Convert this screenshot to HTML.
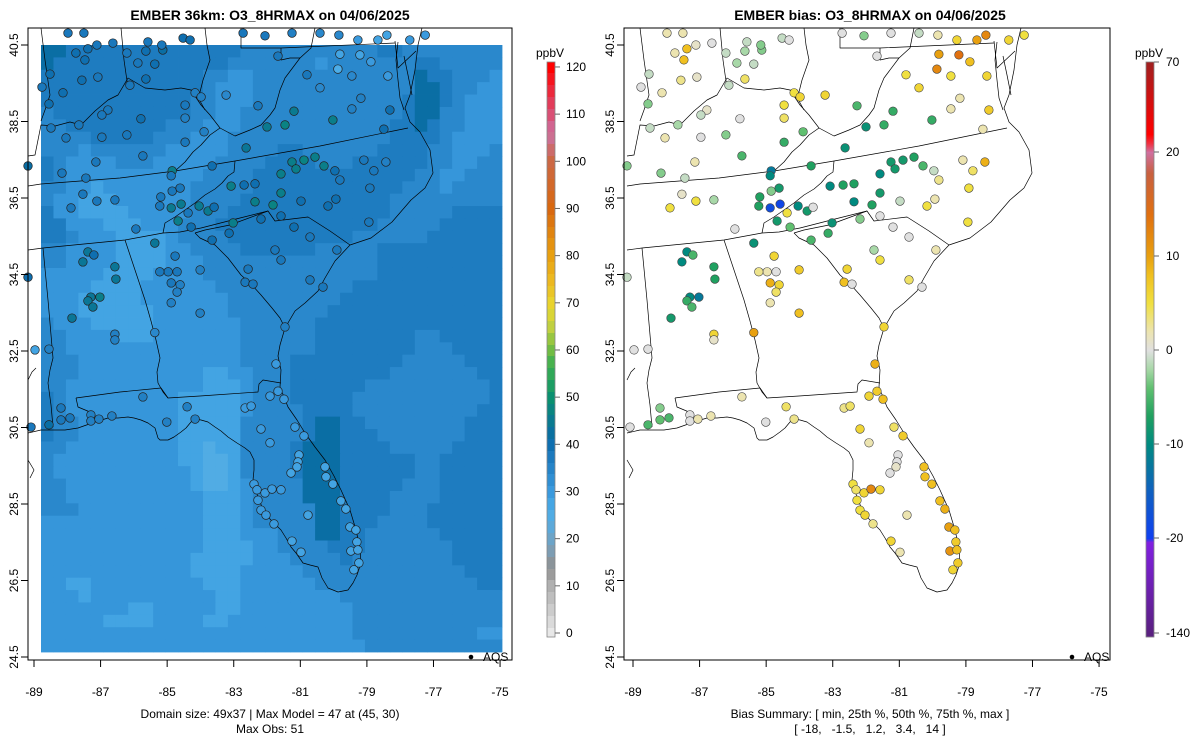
<!DOCTYPE html>
<html><head><meta charset="utf-8"><title>EMBER O3 maps</title>
<style>
html,body{margin:0;padding:0;background:#fff;}
svg{display:block;font-family:"Liberation Sans",sans-serif;}
</style></head>
<body>
<svg id="chart" width="1200" height="750" viewBox="0 0 1200 750" xmlns="http://www.w3.org/2000/svg">
<defs>
<clipPath id="clipL"><rect x="28" y="28" width="484" height="632"/></clipPath>
<clipPath id="clipR"><rect x="624" y="28" width="486" height="632"/></clipPath>
</defs>
<rect x="0" y="0" width="1200" height="750" fill="#fff"/>
<text x="270" y="20" font-size="14" font-weight="bold" text-anchor="middle">EMBER 36km: O3_8HRMAX on 04/06/2025</text>
<text x="870" y="20" font-size="14" font-weight="bold" text-anchor="middle">EMBER bias: O3_8HRMAX on 04/06/2025</text>
<g id="leftGrid" clip-path="url(#clipL)"></g>
<g id="leftMap" clip-path="url(#clipL)"></g>
<g id="rightMap" clip-path="url(#clipR)"></g>
<g id="leftPts"></g>
<g id="rightPts"></g>
<rect x="28" y="28" width="484" height="632" fill="none" stroke="#000" stroke-width="1"/>
<rect x="624" y="28" width="486" height="632" fill="none" stroke="#000" stroke-width="1"/>
<g id="axes" font-size="12"></g>
<g id="cbars" font-size="12"></g>
<g><circle cx="471" cy="657" r="2.3" fill="#000"/><text x="483" y="661" font-size="12">AQS</text></g>
<g><circle cx="1072" cy="657" r="2.3" fill="#000"/><text x="1084" y="661" font-size="12">AQS</text></g>
<text x="270" y="718" font-size="12" text-anchor="middle">Domain size: 49x37 | Max Model = 47 at (45, 30)</text>
<text x="270" y="733" font-size="12" text-anchor="middle">Max Obs: 51</text>
<text x="870" y="718" font-size="12" text-anchor="middle">Bias Summary: [ min, 25th %, 50th %, 75th %, max ]</text>
<text x="870" y="733" font-size="12" text-anchor="middle" xml:space="preserve">[ -18,   -1.5,   1.2,   3.4,   14 ]</text>
</svg>
<script>
// ---- data ----
const xTickLabels = [-89,-87,-85,-83,-81,-79,-77,-75];
const yTickLabels = [40.5,38.5,36.5,34.5,32.5,30.5,28.5,26.5,24.5];
const obsBarTicks = [0,10,20,30,40,50,60,70,80,90,100,110,120];
const biasBarTicks = [-140,-20,-10,0,10,20,70];
const levelValues = {"1":25,"2":28,"3":31,"4":34,"5":37,"6":42};
const modelRows = [
"6655555555555555444444444445544444444",
"6555555555555554444444344444445544444",
"5555555555555443344444444444446554443",
"5555555555555433344444444444446654433",
"5555555555554433344444444444456654333",
"4555555555554433444444444444456644333",
"4455555555444333444444444444556544333",
"4444555554443334444444444444555543333",
"4443444444333334444554444445555443334",
"5433334443333344445555444555555443344",
"5433333333333444455555555555554433444",
"4433233333334444455555555555544434444",
"4332223333334444555555555555444444444",
"5332222333334445555555555555444445555",
"5533322233344455555555555554444455555",
"5543332222344445555555555444444555555",
"4433332222334444555555444445555555555",
"4433332222333444444444444445555555555",
"3333322223333444444444444445555555555",
"3333222233333344444444444555555555555",
"3332222233333334444444445555555555555",
"3332222223333334444444455555555555555",
"4333222223333333444444555555555555555",
"4433332223333333444444555555554455555",
"4433333333333333444444555555554445555",
"4443333333333333444455555555544444555",
"4443333333333223344455555555444444455",
"4433333333333222344455555544444444445",
"5433333333322222344455555444444444445",
"5433333333322222344445555444444444455",
"5443333333322222444445665544444444555",
"5443333333322222444445665554444444555",
"4433333333322122444456665555444445555",
"4333333333322112444456665555554455555",
"4333333333332112444456665555554455555",
"4433333333332112344446665555544455555",
"4433333333333222344446665555444455555",
"4443333333333222344444665555444555555",
"3333333333333222344444665554444555555",
"3333333333333222333444665544444455555",
"3333333333333222233444455544444445555",
"3333333333332222233344445444444445555",
"3333333333332222333334444444444444555",
"3322333333333222333333444444444444455",
"3332333333333322333333334444444444444",
"3333333223333322333333333444444444444",
"3333322223333223333333333444444444444",
"3333333333333333333333333444444444433",
"3333333333333333333333333344444444444"];
const stationLon = [-87.74,-87.38,-87.11,-87.47,-88.52,-87.56,-87.08,-88.76,-88.13,-88.55,-86.21,-85.88,-85.64,-85.37,-85.13,-85.64,-86.12,-86.78,-86.96,-88.49,-88.04,-87.65,-86.96,-86.21,-85.79,-85.73,-84.46,-84.46,-84.16,-83.98,-83.89,-84.46,-83.23,-82.27,-81.67,-80.80,-80.41,-79.87,-79.81,-79.45,-79.18,-79.45,-78.31,-78.49,-81.19,-81.46,-82.00,-80.02,-82.63,-83.65,-84.85,-84.88,-87.14,-88.16,-87.44,-87.53,-87.11,-86.57,-87.89,-85.94,-85.19,-84.85,-84.61,-85.22,-84.88,-84.58,-84.67,-84.28,-84.37,-84.04,-83.77,-83.59,-83.08,-82.69,-82.36,-82.36,-81.82,-81.58,-81.58,-80.98,-79.93,-80.17,-81.58,-81.25,-81.13,-80.89,-80.56,-80.29,-79.96,-79.81,-79.09,-78.79,-78.43,-78.91,-78.94,-82.18,-83.02,-83.14,-83.65,-81.19,-80.71,-79.90,-81.76,-81.58,-82.57,-82.66,-82.42,-80.71,-80.32,-81.46,-84.76,-84.70,-84.97,-85.37,-85.22,-84.88,-84.61,-84.70,-84.88,-84.01,-84.01,-85.37,-86.57,-86.57,-88.55,-87.38,-87.20,-87.53,-86.57,-86.54,-87.29,-87.02,-87.38,-87.23,-87.86,-88.97,-89.18,-89.18,-88.55,-89.09,-88.19,-88.19,-87.92,-87.29,-87.29,-87.05,-86.66,-85.73,-85.01,-84.40,-84.16,-81.73,-81.91,-81.67,-81.49,-82.66,-82.48,-82.18,-81.16,-80.89,-81.91,-81.04,-81.07,-81.10,-81.28,-80.26,-80.23,-80.02,-82.39,-82.30,-82.06,-81.85,-81.58,-82.27,-82.18,-82.03,-81.79,-79.78,-79.63,-80.77,-79.51,-79.33,-79.30,-79.48,-79.27,-80.98,-81.25,-79.24,-79.39,-87.98,-87.50,-86.63,-85.58,-85.16,-84.52,-84.31,-82.72,-82.06,-81.25,-80.41,-79.84,-79.27,-78.67,-78.40,-77.71,-77.25,-79.21,-78.88,-78.37];
const stationLat = [40.29,40.40,40.50,40.11,39.74,39.58,39.66,39.40,39.25,38.96,40.29,40.03,40.34,40.00,40.37,39.61,39.45,38.80,38.67,38.33,38.07,38.41,38.09,38.15,38.57,37.60,38.93,38.59,39.25,39.14,38.23,37.96,39.19,38.91,40.21,39.72,39.38,39.87,40.26,39.69,39.11,38.83,38.80,38.30,38.77,38.41,38.36,38.54,37.81,37.34,37.21,37.08,37.44,37.15,37.02,36.60,36.42,36.45,36.24,35.69,36.53,36.68,36.76,36.29,36.24,36.34,35.90,35.74,36.11,36.29,36.16,36.26,36.81,36.84,36.87,36.40,36.32,36.63,36.03,36.42,36.47,36.29,37.13,37.44,37.26,37.49,37.57,37.34,37.21,36.97,37.49,37.21,37.44,36.76,35.87,35.95,35.85,35.58,35.40,35.74,35.48,35.14,35.14,34.88,34.64,34.30,34.25,34.36,34.17,33.13,34.98,34.57,34.57,35.32,34.57,34.28,34.23,34.04,33.76,34.62,33.49,32.98,32.94,32.79,32.55,35.09,35.01,34.83,34.70,34.38,33.91,33.91,33.81,33.65,33.36,32.53,37.34,34.43,30.57,30.51,31.01,30.70,30.75,30.83,30.67,30.72,30.80,31.30,30.64,31.04,30.72,32.16,31.32,31.45,31.24,31.01,31.06,30.46,30.51,30.28,30.10,29.78,29.60,29.47,29.31,29.47,29.21,29.02,29.02,28.87,28.79,28.89,28.87,28.60,28.34,28.21,27.98,28.58,28.37,28.21,27.90,27.82,27.51,27.27,27.30,27.24,27.53,26.96,26.78,40.81,40.81,40.55,40.58,40.50,40.68,40.63,40.81,40.74,40.81,40.81,40.76,40.63,40.63,40.76,40.63,40.76,40.24,40.06,39.69];
const obsValues = [40,40,38,40,40,40,38,38,40,40,38,38,40,40,42,40,38,38,38,38,38,38,38,38,40,38,38,36,36,36,36,38,34,38,38,38,34,26,28,34,36,36,40,40,45,47,45,46,44,40,46,38,38,38,38,38,38,38,38,38,38,38,38,38,45,45,46,40,38,45,45,40,46,40,40,46,47,46,40,40,40,40,46,46,46,47,46,46,40,38,38,38,36,38,38,40,46,40,40,40,38,38,38,38,38,38,38,38,38,36,38,38,38,44,38,38,36,36,36,36,36,34,36,36,36,44,40,44,44,44,44,46,44,44,44,28,42,40,42,38,38,38,38,36,36,36,36,36,36,36,36,30,30,30,30,30,30,30,30,30,30,28,28,28,28,28,28,28,30,30,30,30,30,30,30,30,30,28,28,28,28,28,28,28,28,28,28,28,28,38,38,38,38,38,40,40,38,38,36,34,34,30,28,28,30,30,28,30,30];
const biasValues = [2,8,1,8,-1,3,1,0,2,-3,-1,-2,-2,-1,-3,4,-1,1,-1,-1,2,-2,0,-3,0,-5,5,4,5,6,-4,-6,6,-5,0,5,6,12,10,5,2,2,7,2,-6,-6,-9,-6,-9,-7,-12,-10,2,-3,-1,1,5,-2,5,0,-7,-3,-8,-7,-18,-19,-8,-4,5,-10,-8,0,-10,-7,-7,-10,-7,-8,0,-1,2,5,-10,-8,-8,-8,-7,-5,-1,3,2,4,9,5,5,-3,-9,-6,-5,0,0,2,-2,5,6,8,0,4,0,6,6,0,2,-9,3,9,6,4,2,7,8,10,6,1,0,-10,-5,-10,-7,-7,-10,-12,-6,-5,-8,0,-3,-1,-5,0,-3,-4,-5,0,0,2,2,2,0,4,3,9,6,7,8,3,4,6,4,7,2,0,0,1,0,8,8,8,5,4,6,12,6,5,5,6,3,8,9,2,10,8,7,11,8,2,6,7,6,2,2,0,-1,-3,-1,0,0,-3,0,-1,2,6,10,12,6,5,14,8,6];
const obsScaleVals = [0,5,10,14,18,22,26,30,34,38,41,45,50,53,57,61,65,69,75,80,90,100,106,112,116,120];
const obsScaleCols = ["#e8e8e8","#cccccc","#b0b0b0","#909090","#7a9fb8","#5ea8d8","#4cade8","#3a9ade","#2a88cc","#1a78bc","#0a6aaa","#0a7a90","#0a9070","#20a060","#40b050","#80c040","#c0d040","#e8d830","#ecb820","#e8a010","#d86810","#cc6844","#cc70a0","#e04060","#f02030","#ff0000"];
const biasScaleVals = [-140,-25,-20,-15,-10,-7,-4,-2,0,2,5,8,10,14,18,20,25,30,70];
const biasScaleCols = ["#5a2080","#8020e0","#1040f0","#1060c0","#008a80","#20a060","#60c070","#a8d8a8","#e0e0e0","#ece4b0","#f0e040","#f0c020","#e8a010","#e07010","#c86040","#d070a0","#f03040","#ff0000","#a02020"];

// ---- helpers ----
const NS="http://www.w3.org/2000/svg";
function mk(tag, attrs, parent){const e=document.createElementNS(NS,tag);for(const k in attrs)e.setAttribute(k,attrs[k]);if(parent)parent.appendChild(e);return e;}
function hex(c){return [parseInt(c.slice(1,3),16),parseInt(c.slice(3,5),16),parseInt(c.slice(5,7),16)];}
function interp(v, vals, cols){
  if(v<=vals[0])return cols[0]; if(v>=vals[vals.length-1])return cols[cols.length-1];
  for(let i=0;i<vals.length-1;i++){if(v<=vals[i+1]){const t=(v-vals[i])/(vals[i+1]-vals[i]);const a=hex(cols[i]),b=hex(cols[i+1]);
    return "rgb("+a.map((x,j)=>Math.round(x+(b[j]-x)*t)).join(",")+")";}}
}
const xL = lon => 34 + (lon+89)*33.29;
const yS = lat => 45 + (40.5-lat)*38.25;
const RIGHT_OFF = 599;

// ---- model grid ----
const gridG=document.getElementById('leftGrid');
const cw=461/37, ch=607/49;
modelRows.forEach((row,r)=>{
  for(let c=0;c<37;c++){
    const v=levelValues[row.charAt(c)||"4"];
    const cell=mk('rect',{x:(41+c*cw).toFixed(2),y:(45+r*ch).toFixed(2),width:(cw+0.4).toFixed(2),height:(ch+0.4).toFixed(2),fill:interp(v,obsScaleVals,obsScaleCols)},gridG);
    
    
  }
});

// ---- basemap (left-panel pixel coordinates) ----
const mapLines = [
 "422,28 418,45 415,70 410,95 405,108 410,122 420,132 430,150 433,173 425,188 411,200 392,222 371,238 350,245 335,261 325,278 318,291 305,303 295,311 285,328 280,345 278,356 281,370 280,387 288,407 297,420 305,433 315,447 325,460 334,476 341,490 350,510 356,530 360,548 361,563 357,575 353,583 348,590 338,592 328,588 322,578 318,567 310,565 303,563 296,553 291,547 286,538 281,530 274,523 268,517 262,507 258,497 255,488 253,480 254,470 254,460 250,452 245,448 237,443 228,437 221,431 215,427 208,422 201,420 196,419 191,422 186,428 181,432 174,437 168,440 160,440 158,438 155,428 148,423 141,420 134,418 128,417 118,418 108,418 95,422 78,428 65,430 55,430 41,430 28,433",
 "398,42 396,60 398,80 400,98 404,110",
 "404,56 408,75 412,95",
 "28,186 41,184 120,178 175,171 235,161 320,146 408,128",
 "28,250 43,248 125,240 163,233",
 "201,228 240,218 268,211",
 "235,161 234,172 228,176 222,183 215,189 205,195 195,203 185,210 175,217 165,223 163,233 180,232 201,228",
 "195,233 205,230 230,225 268,211 275,221 308,217 330,231 350,245",
 "195,233 200,238 215,245 228,258 241,275 252,285 261,295 272,308 280,318 285,328",
 "125,240 135,270 145,300 151,321 156,340 160,358 157,372 158,383 163,392 168,398",
 "76,398 120,392 161,388 168,398 200,396 258,392 259,384 263,380 281,383",
 "76,398 78,407 90,412",
 "43,248 48,300 53,358 50,370 48,383 51,405 53,427",
 "28,156 35,155 41,125 55,126 70,122 81,125 95,111 108,100 118,95 128,78 145,88 165,90 181,88 191,90 200,101 205,110",
 "175,171 185,162 193,152 201,145 210,135 220,128 210,115 201,105 191,90",
 "220,128 235,136 250,130 261,125 270,115 275,108 280,90 285,78 300,58 311,48 315,28",
 "41,28 45,60 50,95 45,110 41,121",
 "121,28 124,60 128,88",
 "205,28 207,45 210,60 203,80 198,100 191,90",
 "241,28 241,48 281,48 395,43",
 "281,48 281,60 290,58 300,58",
 "395,41 398,68 416,51",
 "28,380 32,372 36,368",
 "28,460 34,470 30,478"
];
function drawLines(g, off){
  mapLines.forEach(pts=>{
    const p=pts.split(' ').map(s=>{const [a,b]=s.split(',');return (+a+off)+','+b;}).join(' ');
    const l=mk('polyline',{points:p,fill:'none',stroke:'#000','stroke-width':0.7,'stroke-linejoin':'round'},g);
    
    
  });
}
drawLines(document.getElementById('leftMap'),0);
drawLines(document.getElementById('rightMap'),RIGHT_OFF);

// ---- stations ----
const lp=document.getElementById('leftPts'), rp=document.getElementById('rightPts');
stationLon.forEach((lon,i)=>{
  const cx=xL(lon), cy=yS(stationLat[i]);
  const a=mk('circle',{cx:cx.toFixed(1),cy:cy.toFixed(1),r:4.3,fill:interp(obsValues[i],obsScaleVals,obsScaleCols),stroke:'#222','stroke-width':0.7},lp);
  
  
  const b=mk('circle',{cx:(cx+RIGHT_OFF).toFixed(1),cy:cy.toFixed(1),r:4.3,fill:interp(biasValues[i],biasScaleVals,biasScaleCols),stroke:'#444','stroke-width':0.6},rp);
  
  
});

// ---- axes ----
const ax=document.getElementById('axes');
[[0,"left"],[RIGHT_OFF,"right"]].forEach(([off,nm])=>{
  const left = off?624:28;
  xTickLabels.forEach(v=>{
    const x=xL(v)+off;
    const t=mk('line',{x1:x,y1:660,x2:x,y2:667,stroke:'#000'},ax);
    
    
    const tx=mk('text',{x:x,y:696,'text-anchor':'middle'},ax);tx.textContent=v;
    
    
  });
  yTickLabels.forEach(v=>{
    const y=yS(v);
    const t=mk('line',{x1:left-7,y1:y,x2:left,y2:y,stroke:'#000'},ax);
    
    
    const tx=mk('text',{x:left-10,y:y,'text-anchor':'middle',transform:`rotate(-90 ${left-10} ${y})`},ax);tx.textContent=v.toFixed(1);
    
    
  });
});

// ---- colorbars ----
const cb=document.getElementById('cbars');
const obsY = v => 633 - v*4.717;
for(let y=62;y<637;y+=1){
  const v=(633-y)/4.717;
  const r=mk('rect',{x:547,y:y,width:8,height:1.2,fill:interp(Math.round(v/2.5)*2.5,obsScaleVals,obsScaleCols)},cb);
  
  
}
mk('rect',{x:547,y:62,width:8,height:575,fill:'none',stroke:'#888','stroke-width':0.8},cb);
obsBarTicks.forEach(v=>{
  const y=obsY(v);
  mk('line',{x1:555,y1:y,x2:560,y2:y,stroke:'#666'},cb);
  const t=mk('text',{x:566,y:y+4},cb);t.textContent=v;
  
  
});
const u1=mk('text',{x:536,y:57},cb);u1.textContent='ppbV';


const biasTickY=[633,538,444,350,256,152,62];
function biasOfY(y){
  for(let i=0;i<biasTickY.length-1;i++){
    if(y<=biasTickY[i] && y>=biasTickY[i+1]){const t=(biasTickY[i]-y)/(biasTickY[i]-biasTickY[i+1]);return biasBarTicks[i]+t*(biasBarTicks[i+1]-biasBarTicks[i]);}
  }
  return y>633?-140:70;
}
for(let y=62;y<637;y+=1){
  const r=mk('rect',{x:1146,y:y,width:8,height:1.2,fill:interp(biasOfY(y),biasScaleVals,biasScaleCols)},cb);
  
  
}
mk('rect',{x:1146,y:62,width:8,height:575,fill:'none',stroke:'#888','stroke-width':0.8},cb);
biasBarTicks.forEach((v,i)=>{
  const y=biasTickY[i];
  mk('line',{x1:1154,y1:y,x2:1159,y2:y,stroke:'#666'},cb);
  const t=mk('text',{x:1166,y:y+4},cb);t.textContent=v;
  
  
});
const u2=mk('text',{x:1135,y:57},cb);u2.textContent='ppbV';


</script>
</body></html>
